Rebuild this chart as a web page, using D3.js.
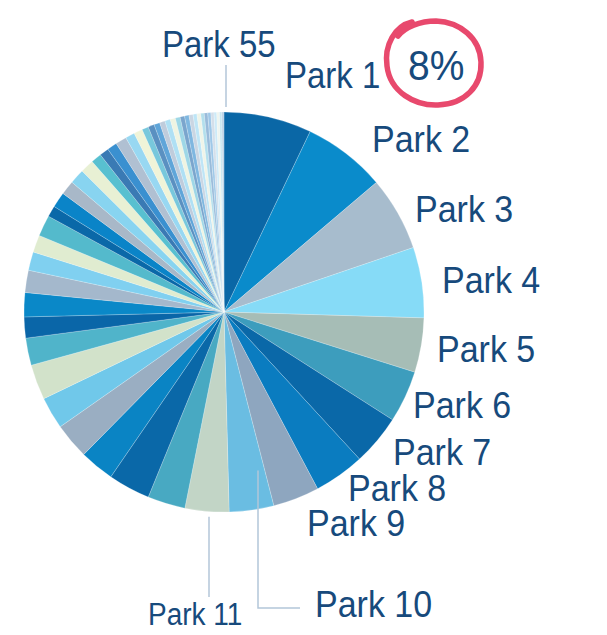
<!DOCTYPE html>
<html>
<head>
<meta charset="utf-8">
<script src="https://cdn.jsdelivr.net/npm/d3@7"></script>
<style>
  html, body { margin: 0; padding: 0; background: #ffffff; }
  svg { display: block; }
  text { font-family: "Liberation Sans", Arial, sans-serif; }
</style>
</head>
<body>
<svg id="chart" width="607" height="635"></svg>
<script>
// ---- data ----
const parks = d3.range(1, 56).map(i => "Park " + i);
const shares = [
  7.1, 6.7, 6.0, 5.7, 4.4, 4.2, 4.1, 4.1, 3.75, 3.6,
  3.55, 3.05, 3.4, 2.8, 2.9, 2.6, 2.85, 2.2, 1.7, 1.95,
  1.8, 1.5, 1.4, 1.7, 0.9, 1.25, 1.15, 1.2, 1.1, 0.85,
  0.75, 0.8, 0.9, 0.75, 0.7, 0.53, 0.5, 0.47, 0.44, 0.44,
  0.42, 0.39, 0.36, 0.36, 0.33, 0.31, 0.31, 0.28, 0.28, 0.25,
  0.25, 0.22, 0.22, 0.19, 0.17
];
const highlightValue = "8%";
const labelled = ["Park 55", "Park 1", "Park 2", "Park 3", "Park 4", "Park 5", "Park 6",
                  "Park 7", "Park 8", "Park 9", "Park 10", "Park 11"];

// ---- style / layout ----
const cycles = [
  ["#0a67a6", "#0a8bcb", "#a7bccd", "#86dbf7", "#a6bdb6", "#3d9dbd"],
  ["#0a68a8", "#0a7cc0", "#8ea6bf", "#6abde2", "#c2d5c6", "#48a9c2"],
  ["#0a68a8", "#0a84c4", "#9aaec2", "#70c8ea", "#d2e2ca", "#50b4ca"],
  ["#0a66a8", "#0a88c8", "#a4b8cc", "#80d0f0", "#e0ecd0", "#54bacc"],
  ["#0a68a8", "#0a84c8", "#a8b8c8", "#88d4f0", "#e8f0d4", "#58c0d0"],
  ["#3a7ab4", "#3a90d0", "#b0c0d2", "#98d8f2", "#f0f4d8", "#78c8dc"]
];
function sliceColor(i) {
  const c = i % 6, r = Math.floor(i / 6);
  if (r < cycles.length) return cycles[r][c];
  const t = Math.min(0.75, (i - 30) / 34);
  return d3.interpolateRgb(cycles[5][c], "#eef5fb")(t);
}

const cx = 224, cy = 312, R = 200;
const textColor = "#174a7c";
const lineColor = "#b3c6d9";
const labelPos = {
  "Park 55": [162, 57, 33],
  "Park 1": [285, 88, 33],
  "Park 2": [372, 152, 34],
  "Park 3": [415, 222, 34],
  "Park 4": [442, 293, 34],
  "Park 5": [437, 362, 34],
  "Park 6": [413, 418, 34],
  "Park 7": [393, 465, 34],
  "Park 8": [348, 501, 34],
  "Park 9": [307, 536, 34],
  "Park 10": [315, 617, 34],
  "Park 11": [148, 625, 28]
};

const svg = d3.select("#chart");
const data = parks.map((p, i) => ({ name: p, value: shares[i], idx: i }));

const pie = d3.pie().sort(null).value(d => d.value).startAngle(0).endAngle(2 * Math.PI);
const arc = d3.arc().innerRadius(0).outerRadius(R);
const arcs = pie(data);

const g = svg.append("g").attr("transform", `translate(${cx},${cy})`);
g.selectAll("path.slice")
  .data(arcs)
  .join("path")
  .attr("class", "slice")
  .attr("d", arc)
  .attr("fill", d => sliceColor(d.data.idx))
  .attr("stroke", "#ffffff")
  .attr("stroke-opacity", 0.35)
  .attr("stroke-width", 0.6);

// leader lines
const byName = {};
arcs.forEach(a => byName[a.data.name] = a);
function edgePoint(a, frac) {
  const ang = a.startAngle + (a.endAngle - a.startAngle) * frac;
  return [cx + Math.sin(ang) * R, cy - Math.cos(ang) * R];
}
const leaders = svg.append("g").attr("fill", "none").attr("stroke", lineColor).attr("stroke-width", 1.5);
{
  const x = 226;
  leaders.append("path").attr("d", `M${x},65 L${x},107`);
}
{
  const a = byName["Park 10"];
  const mid = (a.startAngle + a.endAngle) / 2;
  const x = 258;
  const yTop = cy - Math.cos(mid) * (R - 40);
  leaders.append("path").attr("d", `M${x},${yTop} L${x},608 L300,608`);
}
{
  const x = 209;
  const [ , yEdge] = edgePoint(byName["Park 11"], 0.6);
  leaders.append("path").attr("d", `M${x},${yEdge + 6} L${x},597`);
}

// labels (slightly tall glyphs, as in the reference)
svg.append("g").selectAll("text")
  .data(labelled)
  .join("text")
  .attr("transform", d => `translate(${labelPos[d][0]},${labelPos[d][1]}) scale(1,1.1)`)
  .attr("font-size", d => labelPos[d][2])
  .attr("fill", textColor)
  .text(d => d);

svg.append("text")
  .attr("transform", "translate(408,80) scale(1,1.1)")
  .attr("font-size", 39)
  .attr("fill", textColor)
  .text(highlightValue);

const ring = d3.path();
ring.moveTo(412, 22);
ring.bezierCurveTo(395, 26, 384, 45, 387, 66);
ring.bezierCurveTo(390, 92, 415, 106, 438, 105);
ring.bezierCurveTo(465, 104, 482, 86, 481, 62);
ring.bezierCurveTo(480, 38, 460, 22, 436, 21);
ring.bezierCurveTo(420, 21, 405, 27, 398, 36);
svg.append("path")
  .attr("d", ring.toString())
  .attr("fill", "none")
  .attr("stroke", "#e8496d")
  .attr("stroke-width", 5.5)
  .attr("stroke-linecap", "round");
</script>
</body>
</html>
